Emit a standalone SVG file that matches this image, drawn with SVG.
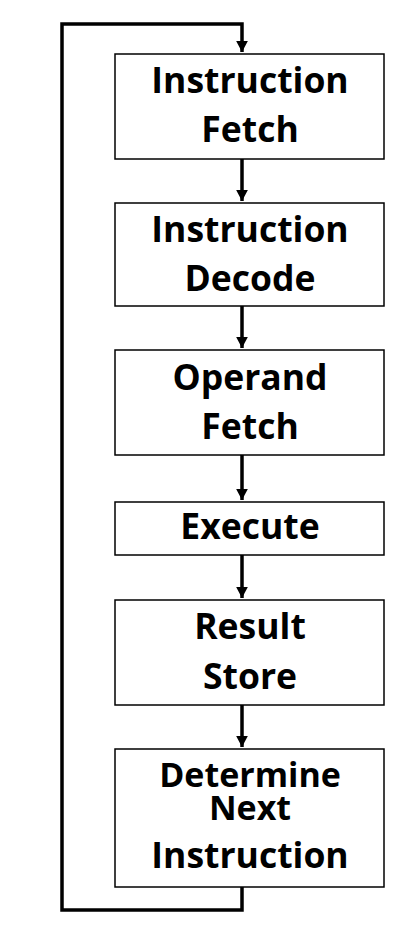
<svg xmlns="http://www.w3.org/2000/svg" width="414" height="933" viewBox="0 0 414 933">
<style>
.box{fill:#fff;stroke:#000;stroke-width:1.5}
.t{font-family:"Open Sans","Noto Sans",sans-serif;font-weight:bold;font-size:35.5px;text-anchor:middle;fill:#000}
.c{fill:none;stroke:#000;stroke-width:3.5}
</style>
<defs>
<marker id="ah" markerWidth="4" markerHeight="4" refX="3.2" refY="2" orient="auto" markerUnits="strokeWidth">
<path d="M0,0.3 L3.2,2 L0,3.7 Z" fill="#000"/>
</marker>
</defs>
<g id="connectors">
<path class="c" d="M242,159 V201" marker-end="url(#ah)"/>
<path class="c" d="M242,306 V348" marker-end="url(#ah)"/>
<path class="c" d="M242,455 V500" marker-end="url(#ah)"/>
<path class="c" d="M242,555 V598" marker-end="url(#ah)"/>
<path class="c" d="M242,705 V747" marker-end="url(#ah)"/>
<path class="c" d="M242,887 V910 H62 V24 H242 V52" marker-end="url(#ah)"/>
</g>
<g id="n1"><rect class="box" x="115" y="54" width="269" height="105"/><text class="t" x="250" y="93">Instruction</text><text class="t" x="250" y="142">Fetch</text></g>
<g id="n2"><rect class="box" x="115" y="203" width="269" height="103"/><text class="t" x="250" y="242">Instruction</text><text class="t" x="250" y="291">Decode</text></g>
<g id="n3"><rect class="box" x="115" y="350" width="269" height="105"/><text class="t" x="250" y="390">Operand</text><text class="t" x="250" y="439">Fetch</text></g>
<g id="n4"><rect class="box" x="115" y="502" width="269" height="53"/><text class="t" x="250" y="539">Execute</text></g>
<g id="n5"><rect class="box" x="115" y="600" width="269" height="105"/><text class="t" x="250" y="639">Result</text><text class="t" x="250" y="689">Store</text></g>
<g id="n6"><rect class="box" x="115" y="749" width="269" height="138"/><text class="t" x="250" y="787" style="font-size:34px">Determine</text><text class="t" x="250" y="820" style="font-size:34px">Next</text><text class="t" x="250" y="868">Instruction</text></g>
</svg>
